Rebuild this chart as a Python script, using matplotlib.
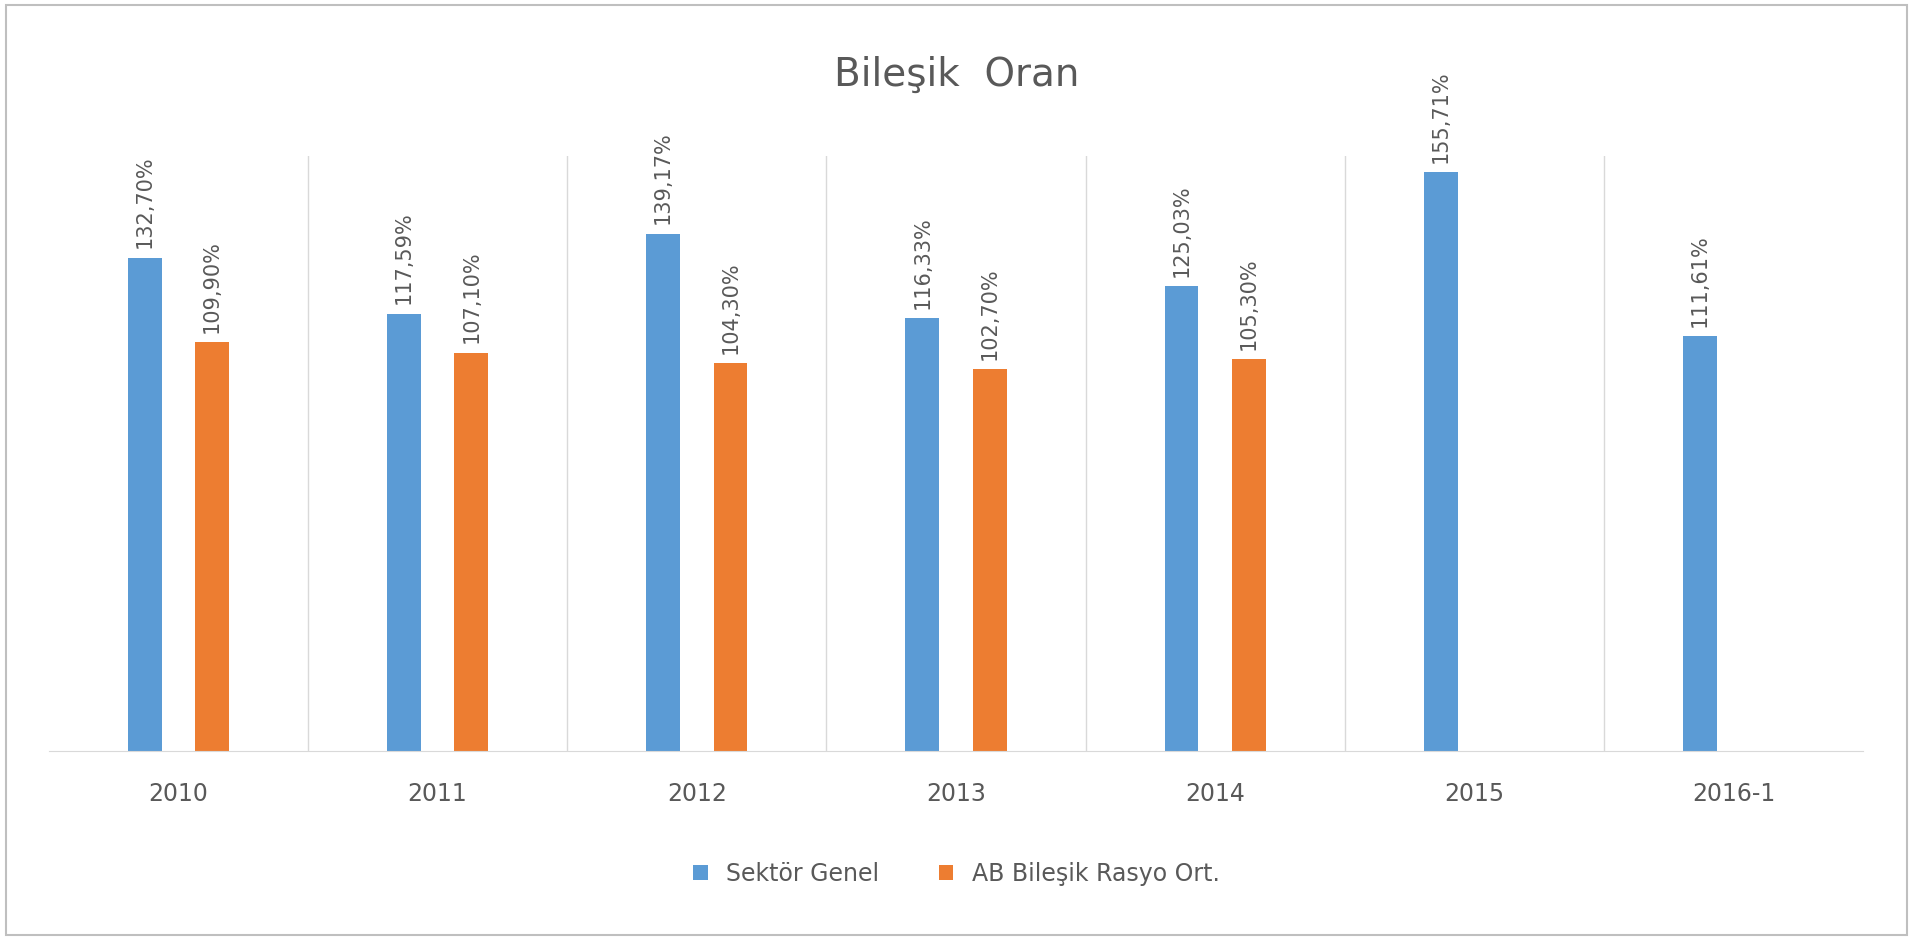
import matplotlib.pyplot as plt
import numpy as np

categories = ["2010", "2011", "2012", "2013", "2014", "2015", "2016-1"]
sektor = [132.70, 117.59, 139.17, 116.33, 125.03, 155.71, 111.61]
ab = [109.90, 107.10, 104.30, 102.70, 105.30, None, None]

blue = '#5b9bd5'
orange = '#ed7d31'
gray = '#595959'

def fmt(v):
    return ("%.2f%%" % v).replace('.', ',')

fig = plt.figure(figsize=(19.13, 9.4), dpi=100)
ax = fig.add_axes([0.0255, 0.201, 0.9485, 0.633])
x = np.arange(len(categories))
w = 0.13
off = 0.13

ax.bar(x - off, sektor, w, color=blue, label='Sektör Genel')
abx = [i + off for i, v in enumerate(ab) if v is not None]
abv = [v for v in ab if v is not None]
ax.bar(abx, abv, w, color=orange, label='AB Bileşik Rasyo Ort.')

for i, v in enumerate(sektor):
    ax.text(i - off, v + 2.5, fmt(v), rotation=90, ha='center', va='bottom', fontsize=15, color=gray)
for xi, v in zip(abx, abv):
    ax.text(xi, v + 2.5, fmt(v), rotation=90, ha='center', va='bottom', fontsize=15, color=gray)

ax.set_xlim(-0.5, len(categories) - 0.5)
ax.set_ylim(0, 160)
for b in np.arange(0.5, len(categories) - 0.5, 1):
    ax.axvline(b, color='#d9d9d9', lw=1)
for s in ['top', 'right', 'left']:
    ax.spines[s].set_visible(False)
ax.spines['bottom'].set_color('#d9d9d9')
ax.set_yticks([])
ax.set_xticks(x)
ax.set_xticklabels(categories, fontsize=17, color=gray)
ax.tick_params(axis='x', length=0, pad=22)

fig.text(0.5, 0.92, "Bileşik  Oran", ha='center', va='center', fontsize=28, color=gray)
fig.legend(loc='center', bbox_to_anchor=(0.5, 0.07), ncol=2, frameon=False,
           fontsize=17, labelcolor=gray, handlelength=0.6, handleheight=0.6, columnspacing=2.5)
fig.patches.append(plt.Rectangle((0.003, 0.005), 0.994, 0.99, transform=fig.transFigure,
                                 fill=False, edgecolor='#bfbfbf', lw=1.5))
fig.savefig('out.png', dpi=100)
